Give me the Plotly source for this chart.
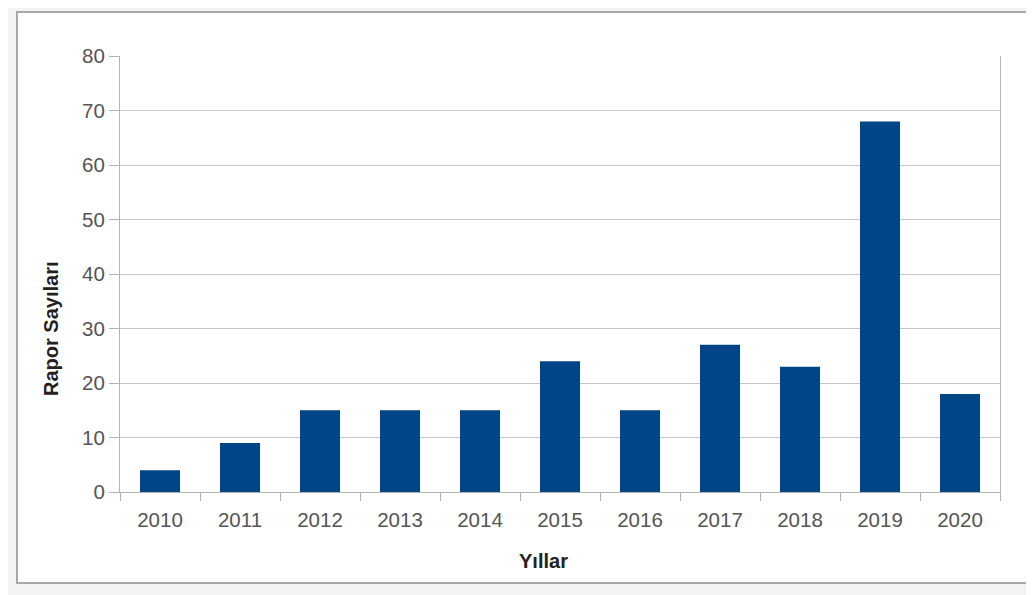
import plotly.graph_objects as go

years = ["2010", "2011", "2012", "2013", "2014", "2015", "2016", "2017", "2018", "2019", "2020"]
reports = [4, 9, 15, 15, 15, 24, 15, 27, 23, 68, 18]
y_ticks = [0, 10, 20, 30, 40, 50, 60, 70, 80]

# page has an 8px body margin; work in figure coordinates
OFF = 8
W, H = 1034, 595
L, T = 120 - OFF, 56 - OFF
R = W - (1000 - OFF)
B = H - (492 - OFF)
pw, ph = W - L - R, H - T - B

def px(x):
    return (x - OFF - L) / pw

def py(y):
    return (H - B - (y - OFF)) / ph

fig = go.Figure(go.Bar(x=years, y=reports, marker=dict(color="#004586", line=dict(width=0)), width=0.5))

fig.update_layout(
    width=W, height=H,
    margin=dict(l=L, r=R, t=T, b=B),
    paper_bgcolor="#f3f3f3",
    plot_bgcolor="white",
    showlegend=False,
    font=dict(family="Liberation Sans, Arial, sans-serif", color="#555555", size=20),
    shapes=[
        dict(type="rect", xref="paper", yref="paper", x0=px(17), x1=px(1030), y0=py(583), y1=py(12),
             line=dict(color="#a8a8a8", width=2), fillcolor="white", layer="below"),
    ],
    annotations=[
        dict(text="<b>Yıllar</b>", xref="paper", yref="paper", x=px(543), y=py(561),
             showarrow=False, font=dict(size=20, color="#222222"), xanchor="center", yanchor="middle"),
        dict(text="<b>Rapor Sayıları</b>", xref="paper", yref="paper", x=px(51), y=py(329),
             showarrow=False, textangle=-90, font=dict(size=20, color="#222222"), xanchor="center", yanchor="middle"),
    ],
)
fig.update_xaxes(
    type="category", showline=True, linecolor="#b3b3b3", linewidth=1,
    ticks="outside", tickson="boundaries", ticklen=8, tickcolor="#b3b3b3",
    showgrid=False, tickfont=dict(size=20.5, color="#555555"), ticklabelstandoff=9,
)
fig.update_yaxes(
    range=[0, 80], tickvals=y_ticks, showline=True, linecolor="#b3b3b3", mirror=True,
    ticks="outside", ticklen=10, tickcolor="#b3b3b3",
    showgrid=True, gridcolor="#c8c8c8", zeroline=False,
    tickfont=dict(size=20.5, color="#555555"),
)
fig.write_html("out.html")
